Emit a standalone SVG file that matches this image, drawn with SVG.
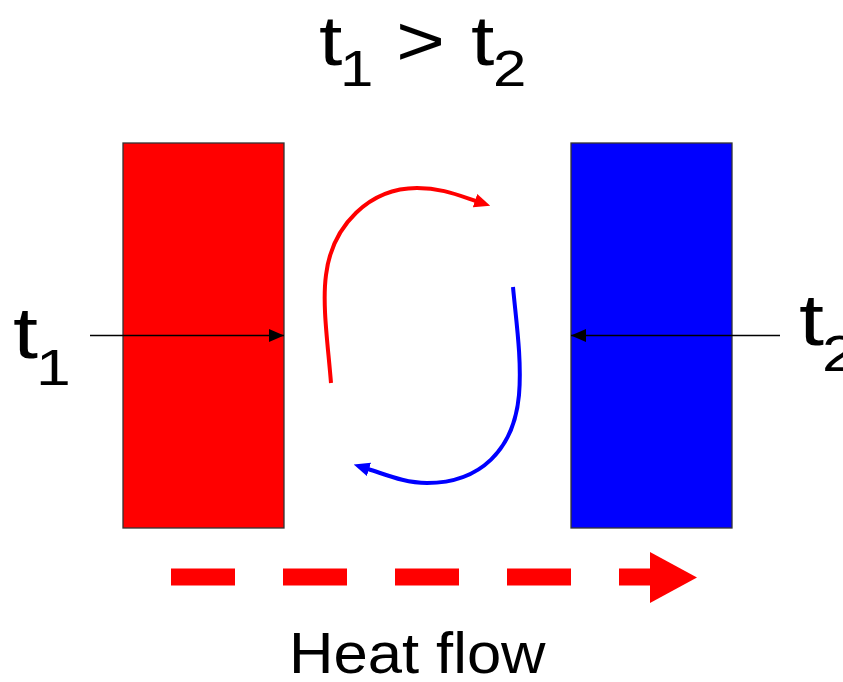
<svg xmlns="http://www.w3.org/2000/svg" width="843" height="682" viewBox="0 0 843 682">
  <style>
    .lbl { font-family: "Liberation Sans", Arial, sans-serif; fill: #000; }
    .plate { stroke: #333; stroke-width: 1.3; }
    .probe { stroke: #000; stroke-width: 1.4; fill: none; }
    .flow { fill: none; stroke-width: 4; stroke-linecap: butt; }
  </style>
  <defs>
    <marker id="blackHead" viewBox="0 0 15 13" refX="15" refY="6.5" markerWidth="15" markerHeight="13" orient="auto" markerUnits="userSpaceOnUse">
      <path d="M0,0 L15,6.5 L0,13 z" fill="#000"/>
    </marker>
    <marker id="redHead" viewBox="0 0 16 14" refX="1" refY="7" markerWidth="16" markerHeight="14" orient="auto" markerUnits="userSpaceOnUse">
      <path d="M0,0 L16,7 L0,14 z" fill="#ff0000"/>
    </marker>
    <marker id="blueHead" viewBox="0 0 16 14" refX="1" refY="7" markerWidth="16" markerHeight="14" orient="auto" markerUnits="userSpaceOnUse">
      <path d="M0,0 L16,7 L0,14 z" fill="#0000ff"/>
    </marker>
  </defs>

  <g id="title">
    <text class="lbl" font-size="70" transform="translate(319,65) scale(1.2,1)">t</text>
    <text class="lbl" font-size="50" transform="translate(340,86) scale(1.2,1)">1</text>
    <text class="lbl" font-size="70" transform="translate(396,65) scale(1.2,1)">&gt;</text>
    <text class="lbl" font-size="70" transform="translate(471,65) scale(1.2,1)">t</text>
    <text class="lbl" font-size="50" transform="translate(493,86) scale(1.2,1)">2</text>
  </g>

  <g id="hot-plate">
    <rect class="plate" x="123" y="143" width="161" height="385" fill="#ff0000"/>
  </g>
  <g id="cold-plate">
    <rect class="plate" x="571" y="143" width="161" height="385" fill="#0000ff"/>
  </g>

  <g id="label-t1">
    <text class="lbl" font-size="72" transform="translate(13,358) scale(1.25,1)">t</text>
    <text class="lbl" font-size="50" transform="translate(36,385) scale(1.25,1)">1</text>
  </g>
  <g id="label-t2">
    <text class="lbl" font-size="72" transform="translate(799,345) scale(1.25,1)">t</text>
    <text class="lbl" font-size="50" transform="translate(822,371) scale(1.25,1)">2</text>
  </g>

  <g id="connectors">
    <line class="probe" x1="90" y1="335.5" x2="284" y2="335.5" marker-end="url(#blackHead)"/>
    <line class="probe" x1="780" y1="335.5" x2="571" y2="335.5" marker-end="url(#blackHead)"/>
    <path class="flow" stroke="#ff0000" d="M331,383 C328,345 322,305 326,275 C332,225 370,188 417,188 C440,188 455,194 476,201" marker-end="url(#redHead)"/>
    <path class="flow" stroke="#0000ff" d="M513,287 C516,320 522,360 519,395 C514,450 480,483 427,483 C405,483 387,475 368,469" marker-end="url(#blueHead)"/>
    <line x1="171" y1="577" x2="651" y2="577" stroke="#ff0000" stroke-width="17" stroke-dasharray="64 48"/>
    <polygon points="650,552 697,577.5 650,603" fill="#ff0000"/>
  </g>

  <g id="heat-flow-label">
    <text class="lbl" font-size="57" transform="translate(289,673) scale(1.08,1)">Heat flow</text>
  </g>
</svg>
